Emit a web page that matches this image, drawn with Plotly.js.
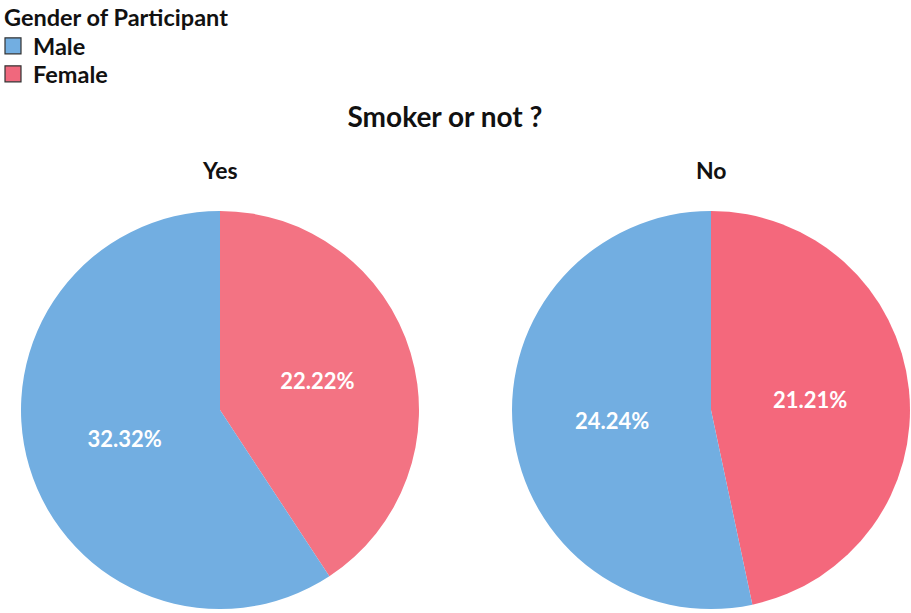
<!DOCTYPE html>
<html>
<head>
<meta charset="utf-8">
<script src="https://cdn.plot.ly/plotly-3.0.1.min.js"></script>
<style>html,body{margin:0;padding:0;background:#fff;}#chart{width:911px;height:613px;}</style>
</head>
<body>
<div id="chart"></div>
<script>
var genders = ['Male', 'Female'];
var groups = ['Yes', 'No'];
var yesValues = [32, 22];
var noValues = [24, 21];
var chartTitle = 'Smoker or not ?';
var legendTitle = 'Gender of Participant';
var genderColors = ['#72AEE1', '#F0687D'];

var total = yesValues.concat(noValues).reduce(function(a, b){ return a + b; }, 0);
function pctText(vals){ return vals.map(function(v){ return (v / total * 100).toFixed(2) + '%'; }); }
function rev(a){ return a.slice().reverse(); }

var fontFam = 'Lato, "Open Sans", sans-serif';
var W = 911, H = 613;
var ml = 21, mr = 1, mt = 211, mb = 4;
var pw = W - ml - mr, ph = H - mt - mb;
function px(x){ return (x - ml) / pw; }
function py(y){ return 1 - (y - mt) / ph; }

var pctFont = {family: fontFam, size: 22, color: '#ffffff', weight: 'bold'};

var data = [
  {
    type: 'pie', labels: rev(genders), values: rev(yesValues), name: groups[0],
    text: rev(pctText(yesValues)), textinfo: 'text', hoverinfo: 'label+value',
    textposition: 'inside', insidetextorientation: 'horizontal',
    textfont: pctFont, direction: 'clockwise', showlegend: false, sort: false,
    marker: {colors: ['#F37383', '#72AEE1'], line: {width: 0}},
    domain: {x: [px(21), px(419)], y: [0, 1]}
  },
  {
    type: 'pie', labels: rev(genders), values: rev(noValues), name: groups[1],
    text: rev(pctText(noValues)), textinfo: 'text', hoverinfo: 'label+value',
    textposition: 'inside', insidetextorientation: 'horizontal',
    textfont: pctFont, direction: 'clockwise', showlegend: false, sort: false,
    marker: {colors: ['#F4687C', '#72AEE1'], line: {width: 0}},
    domain: {x: [px(512), px(910)], y: [0, 1]}
  }
];
var legendIds = ['legend', 'legend2'];
genders.forEach(function(g, i){
  data.push({
    type: 'scatter', mode: 'markers', x: [null], y: [null], name: g,
    marker: {symbol: 'square', size: 16, color: genderColors[i], line: {width: 1.2, color: '#333333'}},
    showlegend: true, hoverinfo: 'skip', legend: legendIds[i]
  });
});

var legFont = {family: fontFam, size: 23.5, color: '#111111', weight: 'bold'};

var layout = {
  width: W, height: H,
  margin: {l: ml, r: mr, t: mt, b: mb, autoexpand: false},
  paper_bgcolor: '#ffffff', plot_bgcolor: 'rgba(0,0,0,0)',
  xaxis: {visible: false, showgrid: false, zeroline: false},
  yaxis: {visible: false, showgrid: false, zeroline: false},
  font: {family: fontFam, color: '#111111', size: 20, weight: 'bold'},
  title: {
    text: '<b>' + chartTitle + '</b>',
    font: {family: fontFam, size: 28, color: '#111111'},
    xref: 'container', yref: 'container',
    x: 445 / W, y: 1 - 117 / H, xanchor: 'center', yanchor: 'middle'
  },
  showlegend: true,
  legend: {
    font: legFont,
    xref: 'paper', yref: 'paper',
    x: px(-7), y: py(24), xanchor: 'left', yanchor: 'top',
    bgcolor: 'rgba(0,0,0,0)', tracegroupgap: 0, itemsizing: 'trace'
  },
  legend2: {
    font: legFont,
    xref: 'paper', yref: 'paper',
    x: px(-7), y: py(52), xanchor: 'left', yanchor: 'top',
    bgcolor: 'rgba(0,0,0,0)', tracegroupgap: 0, itemsizing: 'trace'
  },
  annotations: [
    {text: '<b>' + legendTitle + '</b>', xref: 'paper', yref: 'paper', x: px(2), y: py(17),
     xanchor: 'left', yanchor: 'middle', showarrow: false, font: {family: fontFam, size: 23.5, color: '#111111'}},
    {text: '<b>' + groups[0] + '</b>', xref: 'paper', yref: 'paper', x: px(220), y: py(170),
     xanchor: 'center', yanchor: 'middle', showarrow: false, font: {family: fontFam, size: 23, color: '#111111'}},
    {text: '<b>' + groups[1] + '</b>', xref: 'paper', yref: 'paper', x: px(711), y: py(170),
     xanchor: 'center', yanchor: 'middle', showarrow: false, font: {family: fontFam, size: 23, color: '#111111'}}
  ]
};

Plotly.newPlot('chart', data, layout, {displayModeBar: false, staticPlot: true});
</script>
</body>
</html>
